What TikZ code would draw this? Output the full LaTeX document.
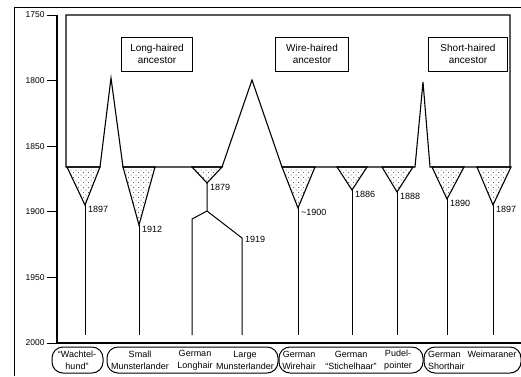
\documentclass[tikz,border=0pt]{standalone}
\usepackage{fontspec}
\setmainfont{Liberation Sans}
\usetikzlibrary{patterns}
\pgfdeclarepatternformonly{specks}{\pgfqpoint{-1pt}{-1pt}}{\pgfqpoint{6pt}{6pt}}{\pgfqpoint{5pt}{5pt}}{
  \pgfpathcircle{\pgfqpoint{1pt}{1pt}}{0.5pt}
  \pgfpathcircle{\pgfqpoint{3.5pt}{3.5pt}}{0.5pt}
  \pgfusepath{fill}
}
\tikzset{
  outline/.style={line width=1.1pt, line join=miter},
  lineage/.style={line width=1pt},
  stipple/.style={outline, pattern=specks, pattern color=black!75},
  ancestor/.style={draw, line width=0.9pt, minimum width=71pt, minimum height=34pt,
    align=center, inner sep=1pt, font=\fontsize{10}{11.5}\selectfont},
  yearlabel/.style={anchor=west, inner sep=1pt, font=\fontsize{9}{10}\selectfont},
  ticklabel/.style={anchor=east, inner sep=2pt, font=\fontsize{8.5}{10}\selectfont},
  breed/.style={align=center, inner sep=0pt, font=\fontsize{9}{12}\selectfont},
  group/.style={draw, line width=1pt, rounded corners=11pt},
}
\begin{document}
\begin{tikzpicture}[x=1pt, y=-1pt]
\useasboundingbox (0,0) rectangle (521,376);
% frame and time axis
\draw[line width=0.8pt] (14,376) -- (14,7) -- (521,7);
\draw[line width=1.4pt] (57,15) -- (57,343) -- (521,343);
\foreach \yr [count=\i from 0] in {1750,1800,1850,1900,1950,2000}
  \draw[line width=1pt] (47,{15+65.6*\i}) node[ticklabel] {\yr} -- (57,{15+65.6*\i});
\coordinate (bottom) at (0,335);

% ancestors
\draw[outline] (66,15) -- (510,15) -- (510,167) -- (430,167) -- (423,82) -- (415,167)
  -- (282,167) -- (252,80) -- (222,167) -- (123,167) -- (111,78) -- (100,167)
  -- (66,167) -- cycle;
\node[ancestor] (long) at (157,54) {Long-haired\\ancestor};
\node[ancestor, minimum width=73pt] (wire) at (312,54) {Wire-haired\\ancestor};
\node[ancestor, minimum width=79pt] (short) at (468,54) {Short-haired\\ancestor};

% breeds split off
\foreach \n/\xl/\xr/\xa/\ya/\yr in {wachtel/67/100/85/205/1897, small/123/155/139/225/1912,
    longhair/192/222/207/183/1879, wirehair/282/315/298/208/{\textasciitilde1900},
    stichel/337/367/352/190/1886, pudel/382/413/397/192/1888,
    shorthair/432/464/447/199/1890, weim/477/511/493/205/1897}{
  \coordinate (\n-apex) at (\xa,\ya);
  \draw[stipple] (\xl,167) -- (\xr,167) -- (\n-apex) -- cycle;
  \node[yearlabel] (\n-year) at ([shift={(2,4)}]\n-apex) {\yr};
}
\foreach \n in {wachtel,small,wirehair,stichel,pudel,shorthair,weim}
  \draw[lineage] (\n-apex) -- (\n-apex |- bottom);

% longhair fork
\coordinate (fork) at (207,211);
\coordinate (gl-top) at (192,219);
\coordinate (lm-top) at (242,238);
\draw[lineage] (longhair-apex) -- (fork) -- (gl-top) -- (gl-top |- bottom);
\draw[lineage] (fork) -- (lm-top) -- (lm-top |- bottom);
\node[yearlabel] (lm-year) at ([shift={(2,1)}]lm-top) {1919};

% breed groups
\draw[group] (52,347) rectangle (103,373);
\draw[group] (107,347) rectangle (278,373);
\draw[group] (279,347) rectangle (423,373);
\draw[group] (424,347) rectangle (521,373);
\node[breed] (wachtelhund) at (77,360) {“Wachtel-\\hund”};
\node[breed] (small-m) at (140,360) {Small\\Munsterlander};
\node[breed] (german-lh) at (195,360) {German\\Longhair};
\node[breed] (large-m) at (245,360) {Large\\Munsterlander};
\node[breed] (german-wh) at (299,360) {German\\Wirehair};
\node[breed] (german-st) at (351,360) {German\\“Stichelhaar”};
\node[breed] (pudel-pt) at (398,360) {Pudel-\\pointer};
\node[breed, anchor=west, align=left] (german-sh) at (428,360) {German\\Shorthair};
\node[breed] (weimaraner) at (492,354) {Weimaraner};
\end{tikzpicture}
\end{document}
